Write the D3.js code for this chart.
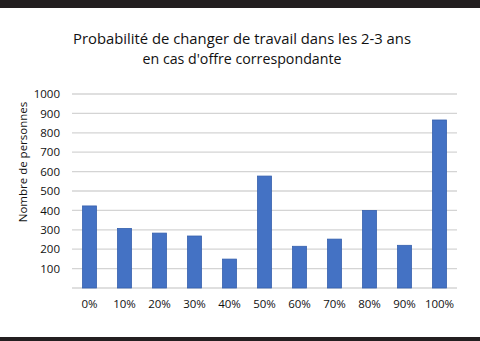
<!DOCTYPE html>
<html>
<head>
<meta charset="utf-8">
<script src="https://cdn.jsdelivr.net/npm/d3@7/dist/d3.min.js"></script>
<style>
  html, body { margin: 0; padding: 0; background: #fff; }
  svg { display: block; }
</style>
</head>
<body>
<svg id="chart" width="480" height="341"></svg>
<script>
// Survey answers: likelihood of changing job within 2-3 years
const categories = ["0%", "10%", "20%", "30%", "40%", "50%", "60%", "70%", "80%", "90%", "100%"];
const counts = [423, 307, 283, 268, 149, 577, 215, 252, 400, 220, 866];
const yTicks = [100, 200, 300, 400, 500, 600, 700, 800, 900, 1000];
const titleLines = ["Probabilité de changer de travail dans les 2-3 ans", "en cas d'offre correspondante"];
const yTitle = "Nombre de personnes";

const W = 480, H = 341;
const margin = { left: 72, right: 23, top: 94, bottom: 53 };
const svg = d3.select("#chart");

// frame bands
svg.append("rect").attr("x", 0).attr("y", 0).attr("width", W).attr("height", 8).attr("fill", "#231f20");
svg.append("rect").attr("x", 0).attr("y", 337).attr("width", W).attr("height", 4).attr("fill", "#231f20");

const x = d3.scaleBand()
  .domain(categories)
  .range([margin.left, W - margin.right])
  .paddingInner(0.6)
  .paddingOuter(0.3);

const y = d3.scaleLinear()
  .domain([0, 1000])
  .range([H - margin.bottom, margin.top]);

// gridlines
svg.append("g")
  .selectAll("line")
  .data([0].concat(yTicks))
  .join("line")
  .attr("x1", margin.left)
  .attr("x2", W - margin.right)
  .attr("y1", d => y(d))
  .attr("y2", d => y(d))
  .attr("stroke", "#d4d4d4")
  .attr("stroke-width", 1.3);

// bars
svg.append("g")
  .selectAll("rect")
  .data(counts)
  .join("rect")
  .attr("x", (d, i) => x(categories[i]))
  .attr("y", d => y(d))
  .attr("width", x.bandwidth())
  .attr("height", d => y(0) - y(d))
  .attr("fill", "#4472c4")
  .attr("stroke", "#3660ad")
  .attr("stroke-width", 0.8);

// y axis labels
const yAxis = d3.axisLeft(y).tickValues(yTicks).tickFormat(d3.format("d")).tickSize(0).tickPadding(12);
const gy = svg.append("g")
  .attr("transform", `translate(${margin.left},0)`)
  .call(yAxis);
gy.select(".domain").remove();
gy.selectAll("text")
  .attr("font-family", "'Open Sans', sans-serif")
  .attr("font-size", 11.5)
  .attr("fill", "#111");

// x axis labels
const xAxis = d3.axisBottom(x).tickSize(0).tickPadding(12);
const gx = svg.append("g")
  .attr("transform", `translate(0,${y(0)})`)
  .call(xAxis);
gx.select(".domain").remove();
gx.selectAll("text")
  .attr("font-family", "'Open Sans', sans-serif")
  .attr("font-size", 11.5)
  .attr("fill", "#111");

// y axis title
svg.append("text")
  .attr("transform", "translate(27,162) rotate(-90)")
  .attr("text-anchor", "middle")
  .attr("font-family", "'Open Sans', sans-serif")
  .attr("font-size", 11.5)
  .attr("fill", "#111")
  .text(yTitle);

// chart title, two condensed lines
const titleWidths = [338, 199];
svg.append("g")
  .selectAll("text")
  .data(titleLines)
  .join("text")
  .attr("x", 242)
  .attr("y", (d, i) => 44 + i * 20)
  .attr("text-anchor", "middle")
  .attr("font-family", "'Open Sans', sans-serif")
  .attr("font-size", 15)
  .attr("textLength", (d, i) => titleWidths[i])
  .attr("lengthAdjust", "spacingAndGlyphs")
  .attr("fill", "#111")
  .text(d => d);
</script>
</body>
</html>
